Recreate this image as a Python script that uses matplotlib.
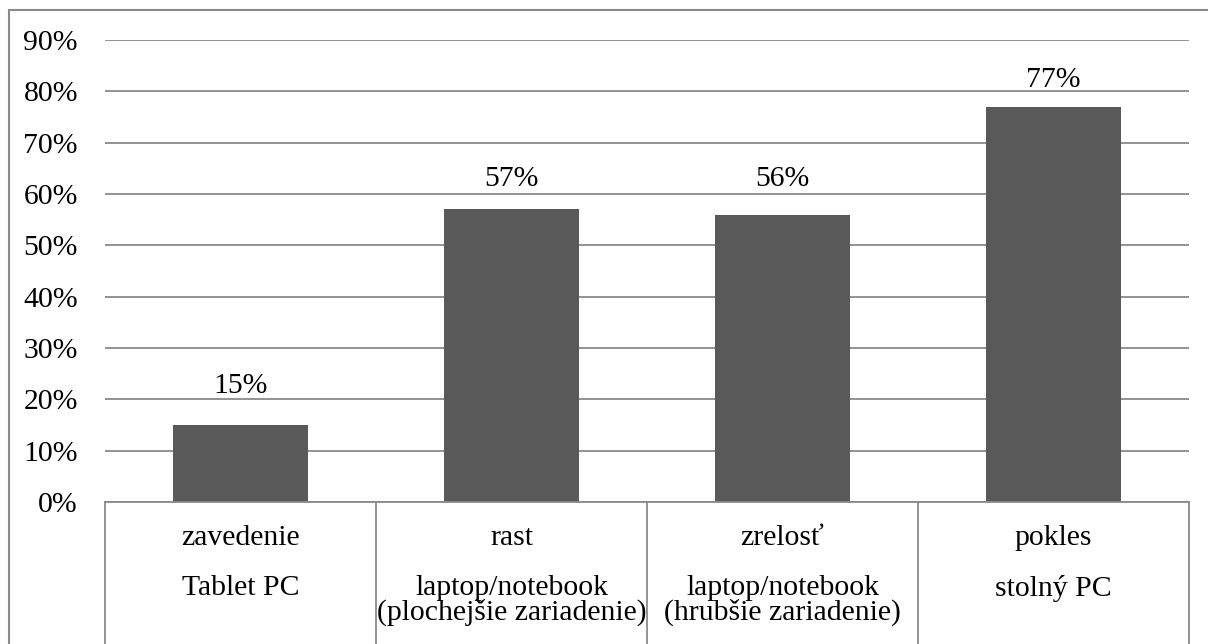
import matplotlib
matplotlib.use("Agg")
import matplotlib.pyplot as plt
from matplotlib.lines import Line2D
from matplotlib.patches import Rectangle
from matplotlib.ticker import FuncFormatter
import matplotlib.transforms as mtransforms

# Product life-cycle phases and share values
phases = ["zavedenie", "rast", "zrelosť", "pokles"]
devices = [
    "Tablet PC",
    "laptop/notebook\n(plochejšie zariadenie)",
    "laptop/notebook\n(hrubšie zariadenie)",
    "stolný PC",
]
shares = [15, 57, 56, 77]
y_ticks = [0, 10, 20, 30, 40, 50, 60, 70, 80, 90]

# vertical gap (px) between each bar top and its value label baseline
label_gap_px = [32, 23, 29, 20]

W, H, DPI = 1208, 644, 100
PX = 72.0 / DPI  # points per pixel

plt.rcParams["font.family"] = ["Liberation Serif", "DejaVu Serif"]
FS = 21.4

fig = plt.figure(figsize=(W / DPI, H / DPI), dpi=DPI)
ax_left, ax_right, ax_top, ax_bottom = 105, 1189, 40, 502
ax = fig.add_axes([ax_left / W, (H - ax_bottom) / H,
                   (ax_right - ax_left) / W, (ax_bottom - ax_top) / H])

grid_c = "#8a8a8a"
bar_c = "#595959"

x = list(range(len(shares)))
ax.bar(x, shares, width=0.5, color=bar_c, zorder=3)
ax.set_xlim(-0.5, len(shares) - 0.5)
ax.set_ylim(0, 90)
ax.set_yticks(y_ticks)
ax.yaxis.set_major_formatter(FuncFormatter(lambda v, p: f"{v:.0f}%"))
ax.tick_params(axis="y", length=0, pad=26 * 0.75, labelsize=FS, labelcolor="black")
ax.set_xticks([])
for s in ax.spines.values():
    s.set_visible(False)
ax.grid(axis="y", color=grid_c, linewidth=1.3, zorder=0)
ax.set_axisbelow(True)
ax.axhline(0, color=grid_c, linewidth=1.3, zorder=4, clip_on=False)

# value labels above bars
for xi, v, gap in zip(x, shares, label_gap_px):
    ax.annotate(f"{v}%", xy=(xi, v), xytext=(0, gap * PX),
                textcoords="offset points", ha="center", va="baseline",
                fontsize=FS, color="black")

# category separators below the axis
trans = mtransforms.blended_transform_factory(ax.transData, ax.transAxes)
for b in [i - 0.5 for i in range(len(shares) + 1)]:
    ax.add_line(Line2D([b, b], [0, -0.5], transform=trans, color=grid_c,
                       linewidth=1.3, clip_on=False))

# two-level category labels
for xi, ph, dev in zip(x, phases, devices):
    ax.annotate(ph, xy=(xi, 0), xycoords=trans, xytext=(0, -43 * PX),
                textcoords="offset points", ha="center", va="baseline",
                fontsize=FS)
    ax.annotate(dev, xy=(xi, 0), xycoords=trans, xytext=(0, -73 * PX),
                textcoords="offset points", ha="center", va="top",
                ma="center", fontsize=FS, linespacing=0.88)

# chart-area frame
fig.add_artist(Rectangle((9 / W, -0.5), 2.0, 1.5 - 10 / H,
                         transform=fig.transFigure, fill=False,
                         edgecolor=grid_c, linewidth=1.5))

fig.savefig("out.png", dpi=DPI, facecolor="white")
